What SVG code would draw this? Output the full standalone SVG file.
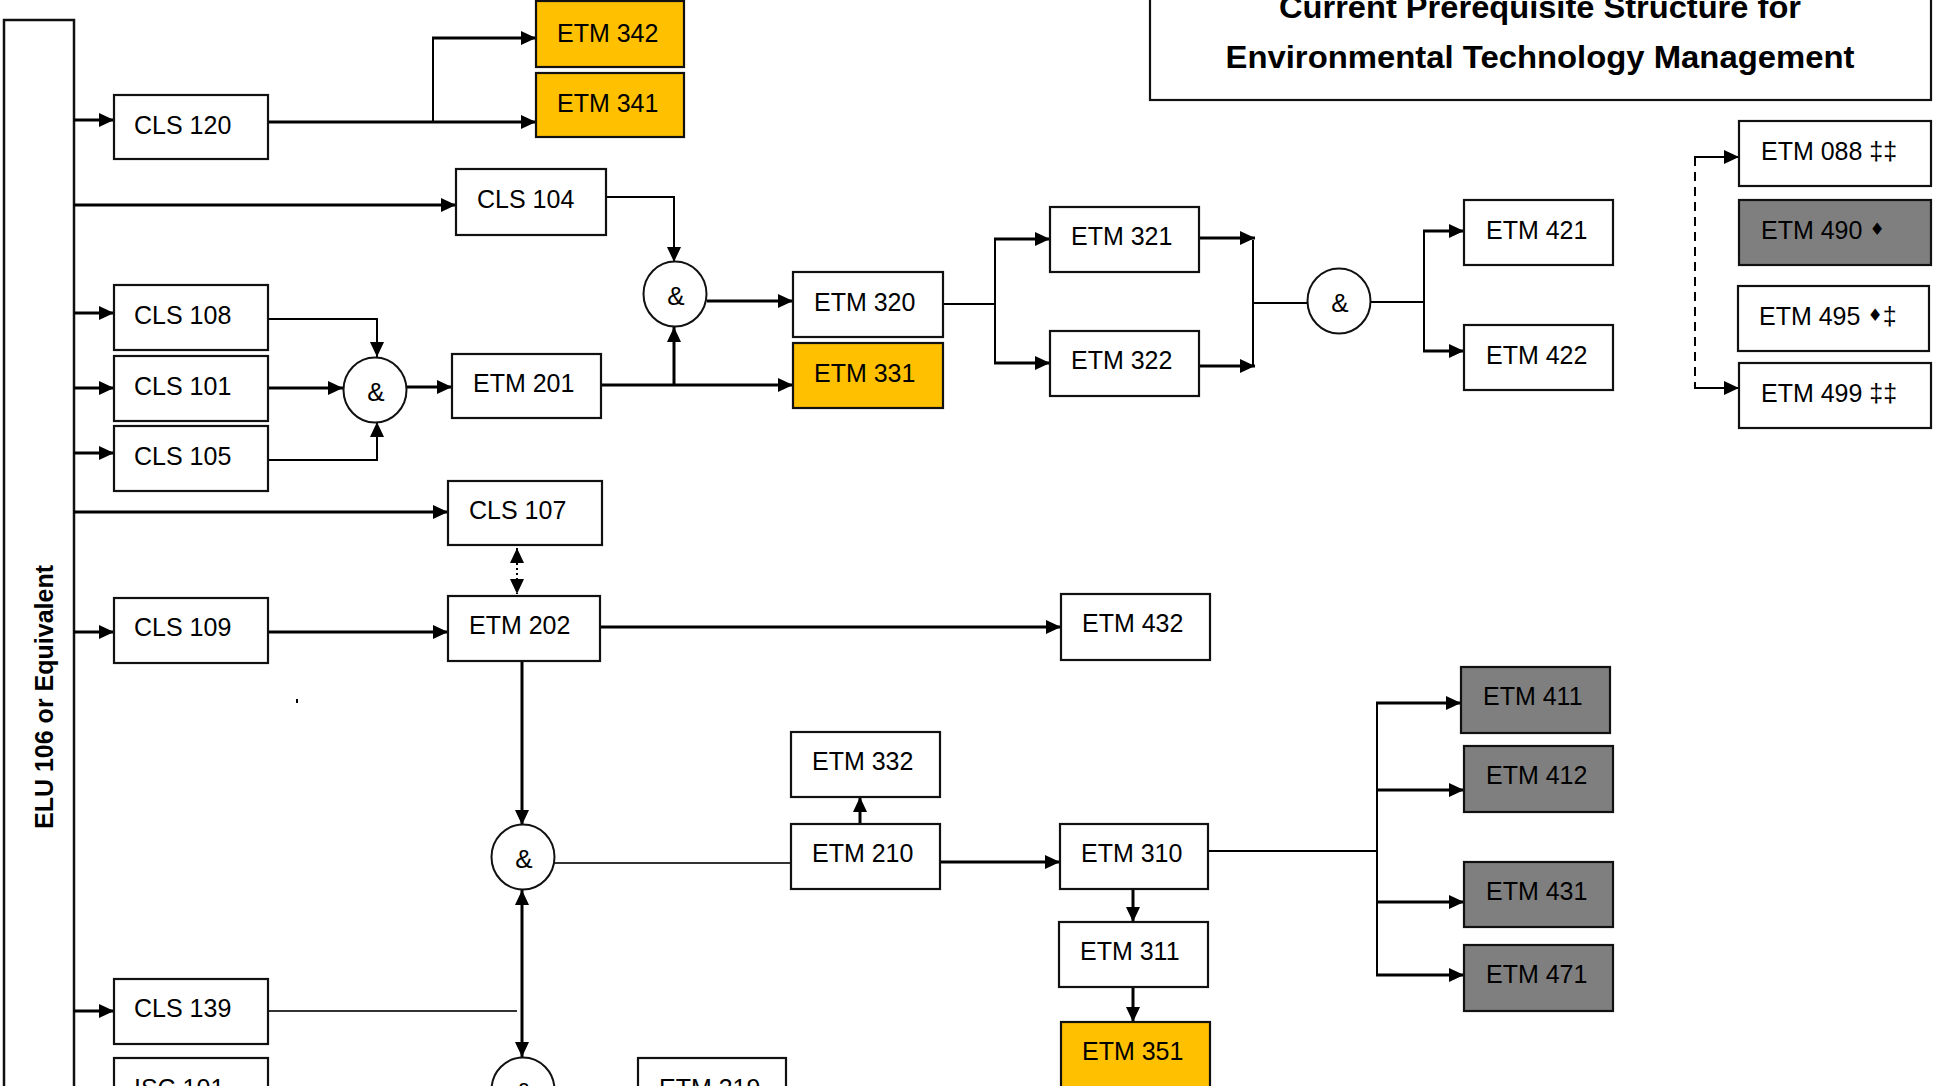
<svg xmlns="http://www.w3.org/2000/svg" width="1934" height="1086" viewBox="0 0 1934 1086">
<style>
  .box { fill: #ffffff; stroke: #111; stroke-width: 2.2; }
  .yel { fill: #FFC000; stroke: #111; stroke-width: 2.2; }
  .gry { fill: #7F7F7F; stroke: #111; stroke-width: 2.2; }
  .and { fill: #ffffff; stroke: #111; stroke-width: 2; }
  .lbl { font-family: "Liberation Sans", Arial, sans-serif; font-size: 25px; fill: #000; }
  .amp { font-family: "Liberation Sans", Arial, sans-serif; font-size: 26px; fill: #000; text-anchor: middle; }
  .title { font-family: "Liberation Sans", Arial, sans-serif; font-size: 31px; font-weight: bold; fill: #000; text-anchor: middle; }
  .k { fill: none; stroke: #000; stroke-width: 3; }
  .t { fill: none; stroke: #000; stroke-width: 2; }
  .g { fill: none; stroke: #333; stroke-width: 2; }
  .ar { marker-end: url(#arr); }
  .dash { stroke-dasharray: 9 6; }
  .dot { stroke-dasharray: 2 3; }
  .dia { font-family: "DejaVu Sans", sans-serif; font-size: 17px; }
</style>
<defs>
  <marker id="arr" markerUnits="userSpaceOnUse" markerWidth="15" markerHeight="14" viewBox="0 0 15 14" refX="15" refY="7" orient="auto-start-reverse">
    <path d="M0,0 L15,7 L0,14 z" fill="#000"/>
  </marker>
</defs>
<rect width="1934" height="1086" fill="#ffffff"/>

<g id="title">
  <rect x="1150" y="-10" width="781" height="110" fill="#fff" stroke="#111" stroke-width="2.2"/>
  <text class="title" x="1540" y="18" textLength="522" lengthAdjust="spacingAndGlyphs">Current Prerequisite Structure for</text>
  <text class="title" x="1540" y="68" textLength="629" lengthAdjust="spacingAndGlyphs">Environmental Technology Management</text>
</g>

<g id="elu106">
  <rect x="4" y="20" width="70" height="1100" fill="#fff" stroke="#111" stroke-width="2.5"/>
  <text transform="translate(53,697) rotate(-90)" text-anchor="middle" font-family="'Liberation Sans', Arial, sans-serif" font-size="25" font-weight="bold">ELU 106 or Equivalent</text>
</g>

<g id="connectors">
  <path class="k ar" d="M74,120 H114"/>
  <path class="k ar" d="M268,122 H536"/>
  <path class="t" d="M433,123 V38"/>
  <path class="k ar" d="M432,38 H536"/>
  <path class="k ar" d="M74,205 H456"/>
  <path class="t ar" d="M606,197 H674 V262"/>
  <path class="k ar" d="M74,313 H114"/>
  <path class="k ar" d="M74,388 H114"/>
  <path class="k ar" d="M74,453 H114"/>
  <path class="t ar" d="M268,319 H377 V357"/>
  <path class="k ar" d="M268,388 H343"/>
  <path class="t ar" d="M268,460 H377 V422"/>
  <path class="k ar" d="M406,387 H452"/>
  <path class="k ar" d="M601,385 H793"/>
  <path class="k ar" d="M674,385 V327"/>
  <path class="k ar" d="M707,301 H793"/>
  <path class="t" d="M943,304 H995"/>
  <path class="t" d="M995,238 V364"/>
  <path class="k ar" d="M994,239 H1050"/>
  <path class="k ar" d="M994,363 H1050"/>
  <path class="k ar" d="M1199,238 H1255"/>
  <path class="k ar" d="M1199,366 H1255"/>
  <path class="t" d="M1253,240 V366"/>
  <path class="t" d="M1253,303 H1307"/>
  <path class="t" d="M1370,302 H1424"/>
  <path class="t" d="M1424,230 V352"/>
  <path class="k ar" d="M1423,231 H1464"/>
  <path class="k ar" d="M1423,351 H1464"/>
  <path class="t dash" d="M1695,157 V388"/>
  <path class="t ar" d="M1694,157 H1739"/>
  <path class="t ar" d="M1694,388 H1739"/>
  <path class="k ar" d="M74,512 H448"/>
  <path class="t dot" d="M517,548 V594" marker-start="url(#arr)" marker-end="url(#arr)"/>
  <path class="k ar" d="M74,632 H114"/>
  <path class="k ar" d="M268,632 H448"/>
  <path class="k ar" d="M600,627 H1061"/>
  <path class="k ar" d="M522,661 V825"/>
  <path class="g" d="M554,863 H791"/>
  <path class="k ar" d="M860,824 V797"/>
  <path class="k ar" d="M940,862 H1060"/>
  <path class="k ar" d="M1133,889 V922"/>
  <path class="k ar" d="M1133,987 V1022"/>
  <path class="t" d="M1208,851 H1377"/>
  <path class="t" d="M1377,702 V976"/>
  <path class="k ar" d="M1376,703 H1461"/>
  <path class="k ar" d="M1376,790 H1464"/>
  <path class="k ar" d="M1376,902 H1464"/>
  <path class="k ar" d="M1376,975 H1464"/>
  <path class="k ar" d="M74,1011 H114"/>
  <path class="g" d="M268,1011 H517"/>
  <path class="k" d="M522,890 V1057" marker-start="url(#arr)" marker-end="url(#arr)"/>
  <rect x="296" y="699" width="2" height="4" fill="#000"/>
</g>

<g id="cls120"><rect class="box" x="114" y="95" width="154" height="64"/><text class="lbl" x="134" y="134">CLS 120</text></g>
<g id="etm342"><rect class="yel" x="536" y="1" width="148" height="66"/><text class="lbl" x="557" y="42">ETM 342</text></g>
<g id="etm341"><rect class="yel" x="536" y="73" width="148" height="64"/><text class="lbl" x="557" y="112">ETM 341</text></g>
<g id="cls104"><rect class="box" x="456" y="169" width="150" height="66"/><text class="lbl" x="477" y="208">CLS 104</text></g>
<g id="cls108"><rect class="box" x="114" y="285" width="154" height="65"/><text class="lbl" x="134" y="324">CLS 108</text></g>
<g id="cls101"><rect class="box" x="114" y="356" width="154" height="65"/><text class="lbl" x="134" y="395">CLS 101</text></g>
<g id="cls105"><rect class="box" x="114" y="426" width="154" height="65"/><text class="lbl" x="134" y="465">CLS 105</text></g>
<g id="and1"><ellipse class="and" cx="375" cy="390" rx="31.5" ry="32.5"/><text class="amp" x="376" y="401">&amp;</text></g>
<g id="etm201"><rect class="box" x="452" y="354" width="149" height="64"/><text class="lbl" x="473" y="392">ETM 201</text></g>
<g id="and2"><ellipse class="and" cx="675" cy="294" rx="31.5" ry="32.5"/><text class="amp" x="676" y="305">&amp;</text></g>
<g id="etm320"><rect class="box" x="793" y="272" width="150" height="65"/><text class="lbl" x="814" y="311">ETM 320</text></g>
<g id="etm331"><rect class="yel" x="793" y="343" width="150" height="65"/><text class="lbl" x="814" y="382">ETM 331</text></g>
<g id="etm321"><rect class="box" x="1050" y="207" width="149" height="65"/><text class="lbl" x="1071" y="245">ETM 321</text></g>
<g id="etm322"><rect class="box" x="1050" y="331" width="149" height="65"/><text class="lbl" x="1071" y="369">ETM 322</text></g>
<g id="and3"><ellipse class="and" cx="1339" cy="301" rx="31.5" ry="32.5"/><text class="amp" x="1340" y="312">&amp;</text></g>
<g id="etm421"><rect class="box" x="1464" y="200" width="149" height="65"/><text class="lbl" x="1486" y="239">ETM 421</text></g>
<g id="etm422"><rect class="box" x="1464" y="325" width="149" height="65"/><text class="lbl" x="1486" y="364">ETM 422</text></g>
<g id="etm088"><rect class="box" x="1739" y="121" width="192" height="65"/><text class="lbl" x="1761" y="160">ETM 088 ‡‡</text></g>
<g id="etm490"><rect class="gry" x="1739" y="200" width="192" height="65"/><text class="lbl" x="1761" y="239">ETM 490 <tspan class="dia" dy="-4">♦</tspan></text></g>
<g id="etm495"><rect class="box" x="1738" y="286" width="191" height="65"/><text class="lbl" x="1759" y="325">ETM 495 <tspan class="dia" dy="-4">♦</tspan><tspan dy="4">‡</tspan></text></g>
<g id="etm499"><rect class="box" x="1739" y="363" width="192" height="65"/><text class="lbl" x="1761" y="402">ETM 499 ‡‡</text></g>
<g id="cls107"><rect class="box" x="448" y="481" width="154" height="64"/><text class="lbl" x="469" y="519">CLS 107</text></g>
<g id="cls109"><rect class="box" x="114" y="598" width="154" height="65"/><text class="lbl" x="134" y="636">CLS 109</text></g>
<g id="etm202"><rect class="box" x="448" y="596" width="152" height="65"/><text class="lbl" x="469" y="634">ETM 202</text></g>
<g id="and4"><ellipse class="and" cx="523" cy="857" rx="31.5" ry="32.5"/><text class="amp" x="524" y="868">&amp;</text></g>
<g id="etm432"><rect class="box" x="1061" y="594" width="149" height="66"/><text class="lbl" x="1082" y="632">ETM 432</text></g>
<g id="etm332"><rect class="box" x="791" y="732" width="149" height="65"/><text class="lbl" x="812" y="770">ETM 332</text></g>
<g id="etm210"><rect class="box" x="791" y="824" width="149" height="65"/><text class="lbl" x="812" y="862">ETM 210</text></g>
<g id="etm310"><rect class="box" x="1060" y="824" width="148" height="65"/><text class="lbl" x="1081" y="862">ETM 310</text></g>
<g id="etm311"><rect class="box" x="1059" y="922" width="149" height="65"/><text class="lbl" x="1080" y="960">ETM 311</text></g>
<g id="etm351"><rect class="yel" x="1061" y="1022" width="149" height="70"/><text class="lbl" x="1082" y="1060">ETM 351</text></g>
<g id="etm411"><rect class="gry" x="1461" y="667" width="149" height="66"/><text class="lbl" x="1483" y="705">ETM 411</text></g>
<g id="etm412"><rect class="gry" x="1464" y="746" width="149" height="66"/><text class="lbl" x="1486" y="784">ETM 412</text></g>
<g id="etm431"><rect class="gry" x="1464" y="862" width="149" height="65"/><text class="lbl" x="1486" y="900">ETM 431</text></g>
<g id="etm471"><rect class="gry" x="1464" y="945" width="149" height="66"/><text class="lbl" x="1486" y="983">ETM 471</text></g>
<g id="cls139"><rect class="box" x="114" y="979" width="154" height="65"/><text class="lbl" x="134" y="1017">CLS 139</text></g>
<g id="isc101"><rect class="box" x="114" y="1058" width="154" height="65"/><text class="lbl" x="134" y="1097">ISC 101</text></g>
<g id="and5"><ellipse class="and" cx="523" cy="1090" rx="31.5" ry="32.5"/><text class="amp" x="524" y="1101">&amp;</text></g>
<g id="etm319"><rect class="box" x="638" y="1058" width="148" height="65"/><text class="lbl" x="659" y="1097">ETM 319</text></g>
</svg>
